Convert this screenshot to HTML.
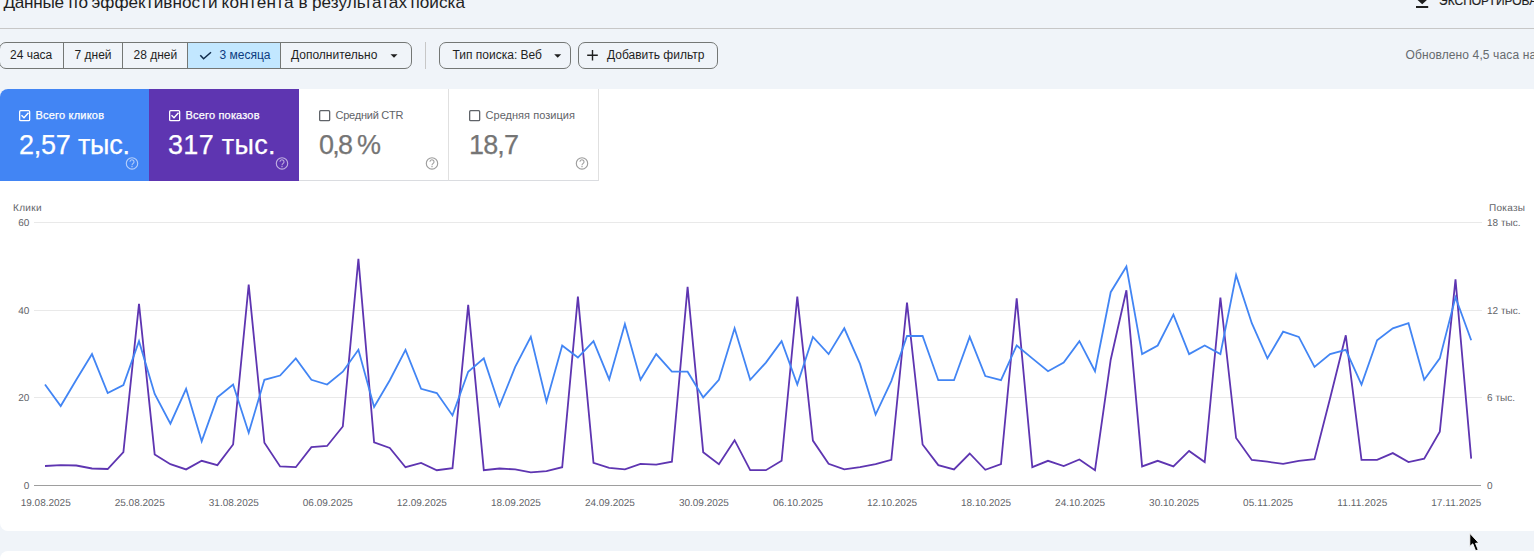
<!DOCTYPE html>
<html><head><meta charset="utf-8">
<style>
*{box-sizing:border-box;margin:0;padding:0}
html,body{width:1534px;height:559px;overflow:hidden;background:#f0f4f9;font-family:"Liberation Sans",sans-serif;color:#1f1f1f}
.abs{position:absolute}
.hr{left:0;top:28px;width:1534px;height:1px;background:#c7c7c7}
.seg{left:-1px;top:42px;height:27px;width:413px;border:1px solid #747775;border-radius:7px;overflow:hidden;background:#f0f4f9}
.seg i{position:absolute;top:0;width:1px;height:25px;background:#747775}
.vsep{left:425px;top:42px;width:1px;height:27px;background:#c7c7c7}
.btn{top:42px;height:27px;border:1px solid #747775;border-radius:7px}
.card{left:0;top:89px;width:1540px;height:442px;background:#fff;border-radius:8px}
.card2{left:0;top:551px;width:1540px;height:20px;background:#fff;border-radius:8px}
.m{top:89px;height:92px;width:150px;border-bottom:1px solid #dadce0}
svg{position:absolute;left:0;top:0}
</style></head><body>
<div class="abs hr"></div>

<div class="abs seg">
  <i style="left:63px"></i><i style="left:122px"></i>
  <div style="position:absolute;left:187px;top:0;width:93px;height:25px;background:#c2e7ff"></div>
  <i style="left:187px"></i><i style="left:280px"></i>
</div>
<div class="abs vsep"></div>
<div class="abs btn" style="left:439px;width:132px"></div>
<div class="abs btn" style="left:578px;width:140px"></div>

<div class="abs card"></div>
<div class="abs card2"></div>

<div class="abs m" style="left:0;background:#4285f4;border-top-left-radius:8px;border-bottom-color:#4285f4"></div>
<div class="abs m" style="left:149px;background:#5e35b1;border-bottom-color:#5e35b1"></div>
<div class="abs m" style="left:299px;background:#fff;border-right:1px solid #e0e0e0"></div>
<div class="abs m" style="left:449px;background:#fff;border-right:1px solid #e0e0e0"></div>

<svg width="1534" height="559" viewBox="0 0 1534 559" font-family="Liberation Sans, sans-serif">
  <!-- header -->
  <g font-size="17.2" fill="#1f1f1f"><text x="3.5" y="8" textLength="60.5" lengthAdjust="spacing">Данные</text><text x="68.5" y="8" textLength="19.5" lengthAdjust="spacing">по</text><text x="91.5" y="8" textLength="126.0" lengthAdjust="spacing">эффективности</text><text x="221.5" y="8" textLength="72.0" lengthAdjust="spacing">контента</text><text x="298.5" y="8" textLength="8.0" lengthAdjust="spacing">в</text><text x="312.0" y="8" textLength="95.0" lengthAdjust="spacing">результатах</text><text x="410.5" y="8" textLength="54.5" lengthAdjust="spacing">поиска</text></g>
  <path d="M1419.5 -4 H1425 V-1 H1428 L1422.2 4.3 L1416.5 -1 H1419.5 Z M1416 6 H1428.2 V8 H1416 Z" fill="#1f1f1f"/>
  <text x="1439" y="5" font-size="12" fill="#1f1f1f" stroke="#1f1f1f" stroke-width="0.2">ЭКСПОРТИРОВАТЬ</text>
  <g font-size="12" fill="#1f1f1f">
    <text x="10" y="58.5">24 часа</text>
    <text x="74.5" y="58.5">7 дней</text>
    <text x="133.5" y="58.5">28 дней</text>
    <text x="219.5" y="58.5" fill="#0b3b80">3 месяца</text>
    <text x="291" y="58.5">Дополнительно</text>
    <text x="452.5" y="58.5">Тип поиска: Веб</text>
    <text x="607" y="58.5">Добавить фильтр</text>
  </g>
  <path d="M200.3 55.3 L203.6 58.8 L211 52.3" fill="none" stroke="#0f2a4a" stroke-width="1.5"/>
  <path d="M390.5 54.3 H397.5 L394 57.8 Z" fill="#1f1f1f"/>
  <path d="M554.2 54.3 H561.2 L557.7 57.8 Z" fill="#1f1f1f"/>
  <path d="M592.5 50 V60.5 M587.2 55.2 H597.8" stroke="#1f1f1f" stroke-width="1.4"/>
  <text x="1405.5" y="59" font-size="12" fill="#666a6e" letter-spacing="0.12">Обновлено 4,5 часа назад</text>

  <!-- metric cards -->
  <g font-size="11" fill="#fff" stroke="#fff" stroke-width="0.25">
    <text x="35.5" y="119" textLength="68.5" lengthAdjust="spacing">Всего кликов</text>
    <text x="185.5" y="119" textLength="74" lengthAdjust="spacing">Всего показов</text>
  </g>
  <g font-size="11" fill="#5f6368">
    <text x="335.5" y="119" textLength="68" lengthAdjust="spacing">Средний CTR</text>
    <text x="485.5" y="119" textLength="89.5" lengthAdjust="spacing">Средняя позиция</text>
  </g>
  <g fill="none" stroke-width="1.3">
    <rect x="19.65" y="110.65" width="10" height="10" rx="1" stroke="#fff"/>
    <rect x="169.65" y="110.65" width="10" height="10" rx="1" stroke="#fff"/>
    <rect x="319.65" y="110.65" width="10" height="10" rx="1" stroke="#5f6368"/>
    <rect x="469.65" y="110.65" width="10" height="10" rx="1" stroke="#5f6368"/>
    <path d="M21.5 115.3 L24 117.7 L28.5 112.8" stroke="#fff" stroke-width="1.4"/>
    <path d="M171.5 115.3 L174 117.7 L178.5 112.8" stroke="#fff" stroke-width="1.4"/>
  </g>
  <g font-size="27" stroke-width="0.25">
    <text x="19" y="154" fill="#fff" stroke="#fff" textLength="111" lengthAdjust="spacing">2,57 тыс.</text>
    <text x="168" y="154" fill="#fff" stroke="#fff" textLength="107.5" lengthAdjust="spacing">317 тыс.</text>
    <text x="319" y="154" fill="#757575" stroke="#757575" textLength="62" lengthAdjust="spacing">0,8 %</text>
    <text x="469" y="154" fill="#757575" stroke="#757575" textLength="50" lengthAdjust="spacing">18,7</text>
  </g>
  <g fill="none" stroke-width="1.15">
    <circle cx="132" cy="163.4" r="5.7" stroke="rgba(255,255,255,.6)"/>
    <circle cx="282" cy="163.4" r="5.7" stroke="rgba(255,255,255,.6)"/>
    <circle cx="432" cy="163.4" r="5.7" stroke="#9e9e9e"/>
    <circle cx="582" cy="163.4" r="5.7" stroke="#9e9e9e"/>
  </g>
  <g fill="none" stroke-width="1.1" stroke-linecap="butt">
    <path d="M130 161.8 A2 2 0 1 1 133.6 163 C133 163.8 132 164 132 165.2" stroke="rgba(255,255,255,.6)"/>
    <path d="M280 161.8 A2 2 0 1 1 283.6 163 C283 163.8 282 164 282 165.2" stroke="rgba(255,255,255,.6)"/>
    <path d="M430 161.8 A2 2 0 1 1 433.6 163 C433 163.8 432 164 432 165.2" stroke="#9e9e9e"/>
    <path d="M580 161.8 A2 2 0 1 1 583.6 163 C583 163.8 582 164 582 165.2" stroke="#9e9e9e"/>
  </g>
  <g>
    <rect x="131.4" y="166" width="1.2" height="1.2" fill="rgba(255,255,255,.6)"/>
    <rect x="281.4" y="166" width="1.2" height="1.2" fill="rgba(255,255,255,.6)"/>
    <rect x="431.4" y="166" width="1.2" height="1.2" fill="#9e9e9e"/>
    <rect x="581.4" y="166" width="1.2" height="1.2" fill="#9e9e9e"/>
  </g>

  <!-- chart -->
  <g font-size="10" fill="#5f6368" text-rendering="geometricPrecision">
    <text x="13" y="211" textLength="28.5" lengthAdjust="spacing">Клики</text>
    <text x="1489" y="211" textLength="36" lengthAdjust="spacing">Показы</text>
    <text x="29.3" y="226" text-anchor="end">60</text>
    <text x="29.3" y="313.5" text-anchor="end">40</text>
    <text x="29.3" y="401" text-anchor="end">20</text>
    <text x="29.3" y="489" text-anchor="end">0</text>
    <text x="1487" y="226" textLength="33.5" lengthAdjust="spacing">18 тыс.</text>
    <text x="1487" y="313.5" textLength="33.5" lengthAdjust="spacing">12 тыс.</text>
    <text x="1487" y="401" textLength="28" lengthAdjust="spacing">6 тыс.</text>
    <text x="1487" y="489">0</text>
  </g>
  <g stroke="#e9e9e9" stroke-width="1">
    <line x1="34" y1="222.5" x2="1482" y2="222.5"/>
    <line x1="34" y1="310.5" x2="1482" y2="310.5"/>
    <line x1="34" y1="397.5" x2="1482" y2="397.5"/>
  </g>
  <line x1="34" y1="485.5" x2="1481" y2="485.5" stroke="#9e9e9e" stroke-width="1"/>
  <path d="M45.0,466.0 L60.7,465.1 L76.3,465.5 L92.0,468.5 L107.7,469.0 L123.4,452.2 L139.0,303.9 L154.7,454.4 L170.4,464.2 L186.1,469.4 L201.7,460.8 L217.4,465.1 L233.1,444.5 L248.7,284.6 L264.4,442.8 L280.1,466.4 L295.8,467.2 L311.4,447.1 L327.1,446.0 L342.8,426.5 L358.4,258.9 L374.1,442.3 L389.8,447.9 L405.5,467.2 L421.1,462.9 L436.8,470.2 L452.5,468.1 L468.2,304.8 L483.8,470.2 L499.5,468.5 L515.2,469.4 L530.8,472.4 L546.5,471.1 L562.2,467.2 L577.9,296.7 L593.5,462.9 L609.2,467.8 L624.9,469.4 L640.5,463.8 L656.2,464.7 L671.9,461.7 L687.6,286.8 L703.2,452.2 L718.9,464.2 L734.6,440.2 L750.2,470.2 L765.9,470.2 L781.6,460.8 L797.3,296.7 L812.9,440.6 L828.6,463.8 L844.3,469.4 L860.0,467.2 L875.6,464.2 L891.3,459.9 L907.0,302.7 L922.6,444.5 L938.3,465.1 L954.0,469.4 L969.7,453.5 L985.3,469.8 L1001.0,464.2 L1016.7,298.4 L1032.3,467.2 L1048.0,460.8 L1063.7,466.0 L1079.4,459.5 L1095.0,470.2 L1110.7,359.7 L1126.4,290.3 L1142.1,466.4 L1157.7,460.8 L1173.4,466.4 L1189.1,450.9 L1204.7,462.1 L1220.4,297.5 L1236.1,438.0 L1251.8,459.9 L1267.4,461.7 L1283.1,463.8 L1298.8,460.8 L1314.5,459.1 L1330.1,398.3 L1345.8,335.3 L1361.5,459.9 L1377.1,459.9 L1392.8,453.1 L1408.5,462.1 L1424.2,458.7 L1439.8,431.6 L1455.5,279.3 L1471.2,458.7" fill="none" stroke="#5e35b1" stroke-width="1.8" stroke-linejoin="miter" stroke-miterlimit="4"/>
  <path d="M45.0,384.5 L60.7,406.0 L76.3,379.8 L92.0,354.1 L107.7,393.1 L123.4,385.0 L139.0,341.2 L154.7,394.0 L170.4,423.7 L186.1,388.8 L201.7,441.3 L217.4,397.4 L233.1,384.5 L248.7,432.7 L264.4,379.8 L280.1,375.5 L295.8,358.4 L311.4,379.8 L327.1,384.5 L342.8,371.7 L358.4,349.8 L374.1,406.9 L389.8,380.2 L405.5,349.8 L421.1,388.8 L436.8,393.1 L452.5,415.4 L468.2,371.7 L483.8,358.4 L499.5,406.0 L515.2,366.9 L530.8,336.9 L546.5,401.7 L562.2,345.5 L577.9,357.5 L593.5,341.2 L609.2,379.4 L624.9,324.0 L640.5,379.8 L656.2,354.1 L671.9,371.7 L687.6,371.7 L703.2,397.4 L718.9,379.8 L734.6,328.3 L750.2,379.8 L765.9,362.6 L781.6,341.2 L797.3,384.5 L812.9,336.9 L828.6,354.1 L844.3,328.3 L860.0,363.9 L875.6,414.6 L891.3,381.1 L907.0,336.0 L922.6,336.0 L938.3,380.2 L954.0,380.2 L969.7,336.9 L985.3,376.0 L1001.0,380.2 L1016.7,345.5 L1032.3,358.4 L1048.0,371.2 L1063.7,362.6 L1079.4,341.2 L1095.0,371.2 L1110.7,292.2 L1126.4,266.5 L1142.1,354.1 L1157.7,345.5 L1173.4,314.6 L1189.1,354.1 L1204.7,345.5 L1220.4,354.1 L1236.1,275.1 L1251.8,323.2 L1267.4,358.4 L1283.1,331.7 L1298.8,336.9 L1314.5,366.9 L1330.1,354.1 L1345.8,349.8 L1361.5,384.5 L1377.1,340.3 L1392.8,328.3 L1408.5,323.2 L1424.2,379.8 L1439.8,358.4 L1455.5,297.2 L1471.2,340.3" fill="none" stroke="#4285f4" stroke-width="1.8" stroke-linejoin="miter" stroke-miterlimit="4"/>
  <g font-size="10" fill="#5f6368" text-rendering="geometricPrecision"><text x="45.7" y="506" text-anchor="middle" textLength="50" lengthAdjust="spacing">19.08.2025</text><text x="139.7" y="506" text-anchor="middle" textLength="50" lengthAdjust="spacing">25.08.2025</text><text x="233.8" y="506" text-anchor="middle" textLength="50" lengthAdjust="spacing">31.08.2025</text><text x="327.8" y="506" text-anchor="middle" textLength="50" lengthAdjust="spacing">06.09.2025</text><text x="421.8" y="506" text-anchor="middle" textLength="50" lengthAdjust="spacing">12.09.2025</text><text x="515.9" y="506" text-anchor="middle" textLength="50" lengthAdjust="spacing">18.09.2025</text><text x="609.9" y="506" text-anchor="middle" textLength="50" lengthAdjust="spacing">24.09.2025</text><text x="703.9" y="506" text-anchor="middle" textLength="50" lengthAdjust="spacing">30.09.2025</text><text x="798.0" y="506" text-anchor="middle" textLength="50" lengthAdjust="spacing">06.10.2025</text><text x="892.0" y="506" text-anchor="middle" textLength="50" lengthAdjust="spacing">12.10.2025</text><text x="986.0" y="506" text-anchor="middle" textLength="50" lengthAdjust="spacing">18.10.2025</text><text x="1080.1" y="506" text-anchor="middle" textLength="50" lengthAdjust="spacing">24.10.2025</text><text x="1174.1" y="506" text-anchor="middle" textLength="50" lengthAdjust="spacing">30.10.2025</text><text x="1268.1" y="506" text-anchor="middle" textLength="50" lengthAdjust="spacing">05.11.2025</text><text x="1362.2" y="506" text-anchor="middle" textLength="50" lengthAdjust="spacing">11.11.2025</text><text x="1456.2" y="506" text-anchor="middle" textLength="50" lengthAdjust="spacing">17.11.2025</text></g>
  <path d="M1469.8 533.3 L1469.8 546.4 L1472.8 543.8 L1475.6 550.8 L1478.2 549.8 L1475.5 543.3 L1478.8 543 Z" fill="#000" stroke="#fff" stroke-width="0.9" stroke-linejoin="miter"/>
</svg>
</body></html>
